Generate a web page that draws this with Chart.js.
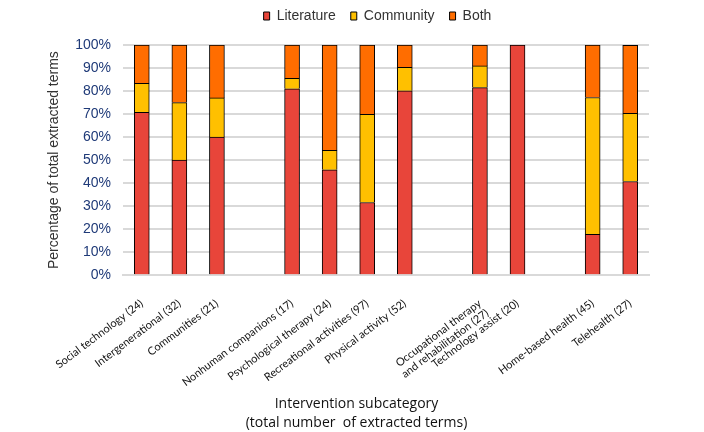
<!DOCTYPE html>
<html>
<head>
<meta charset="utf-8">
<script src="https://cdn.jsdelivr.net/npm/chart.js@4"></script>
<style>
  html, body { margin: 0; padding: 0; background: #fff; }
  #wrap { width: 704px; height: 432px; }
</style>
</head>
<body>
<div id="wrap"><canvas id="myChart" width="704" height="432"></canvas></div>
<script>
// categories (empty strings are the gaps between groups)
var categories = [
  "Social technology (24)", "Intergenerational (32)", "Communities (21)", "",
  "Nonhuman companions (17)", "Psychological therapy (24)", "Recreational activities (97)", "Physical activity (52)", "",
  ["Occupational therapy", "and rehabilitation (27)"], "Technology assist (20)", "",
  "Home-based health (45)", "Telehealth (27)"
];

// percentages
var literature = [70.8, 50, 60, null, 81, 45.8, 31.6, 80.1, null, 81.5, 100, null, 17.8, 40.7];
var community  = [12.5, 25, 17, null, 4.5, 8.4, 38.3, 10.2, null, 9.4, 0, null, 59.4, 29.6];
var both       = [16.7, 25, 23, null, 14.5, 45.8, 30.1, 9.7, null, 9.1, 0, null, 22.8, 29.6];

var yTicks = [0, 10, 20, 30, 40, 50, 60, 70, 80, 90, 100];

var ctx = document.getElementById("myChart");

// legend: fixed height, then moved up and centred over the plot like the original
var legendShift = {
  id: 'legendShift',
  beforeLayout: function(chart) {
    var lg = chart.legend;
    if (lg && !lg._patched) {
      var origFit = lg.fit;
      lg.fit = function() { origFit.call(this); this.height = 45; };
      lg._patched = true;
    }
  },
  afterLayout: function(chart) {
    var lg = chart.legend;
    var off = (chart.chartArea.left + chart.chartArea.right) / 2 - chart.width / 2 - 4;
    lg.left += off;
    lg.right += off;
    lg.top = -6;
    lg.bottom = lg.top + lg.height;
    var tb = chart.titleBlock;
    if (tb) { tb.left += 9; tb.right += 9; }
  }
};

var barStyle = { borderColor: '#000', borderWidth: 1, barThickness: 15 };

var myChart = new Chart(ctx, {
  type: 'bar',
  data: {
    labels: categories,
    datasets: [
      Object.assign({ label: 'Literature', data: literature, backgroundColor: '#e8453a' }, barStyle),
      Object.assign({ label: 'Community', data: community, backgroundColor: '#ffc000' }, barStyle),
      Object.assign({ label: 'Both', data: both, backgroundColor: '#ff6d00' }, barStyle)
    ]
  },
  plugins: [legendShift],
  options: {
    responsive: false,
    animation: false,
    layout: { padding: { left: 46, right: 55, top: 0, bottom: 0 } },
    plugins: {
      tooltip: { enabled: false },
      legend: {
        position: 'top',
        labels: {
          boxWidth: 6,
          boxHeight: 8,
          padding: 15,
          color: '#333',
          font: { family: 'Liberation Sans', size: 14 }
        }
      },
      title: {
        display: true,
        position: 'bottom',
        text: ['Intervention subcategory', '(total number  of extracted terms)'],
        color: '#111',
        font: { family: 'Open Sans', size: 14, weight: 'normal', lineHeight: 1.35 },
        padding: { top: 6, bottom: 0 }
      }
    },
    scales: {
      x: {
        stacked: true,
        afterFit: function(axis) {
          axis.height = 113;
          // let the slanted labels run past the axis box
          axis._computeLabelArea = function() { return undefined; };
        },
        grid: { display: false },
        border: { color: '#d9d9d9', width: 2 },
        ticks: {
          autoSkip: false,
          maxRotation: 37,
          minRotation: 37,
          color: '#111',
          padding: 14,
          font: { family: 'Lato', size: 11, lineHeight: 1.1 }
        }
      },
      y: {
        stacked: true,
        min: 0,
        max: 100,
        afterBuildTicks: function(axis) {
          axis.ticks = yTicks.map(function(v) { return { value: v }; });
        },
        afterFit: function(axis) { axis.width = 77; },
        grid: { color: '#d9d9d9', lineWidth: 2, drawTicks: false },
        border: { display: false },
        ticks: {
          autoSkip: false,
          padding: 12,
          color: '#1f3a78',
          font: { family: 'Liberation Sans', size: 14 },
          callback: function(v) { return v + '%'; }
        },
        title: {
          display: true,
          text: 'Percentage of total extracted terms',
          color: '#333',
          font: { family: 'Liberation Sans', size: 14 },
          padding: { top: 0, bottom: 8 }
        }
      }
    }
  }
});
</script>
</body>
</html>
